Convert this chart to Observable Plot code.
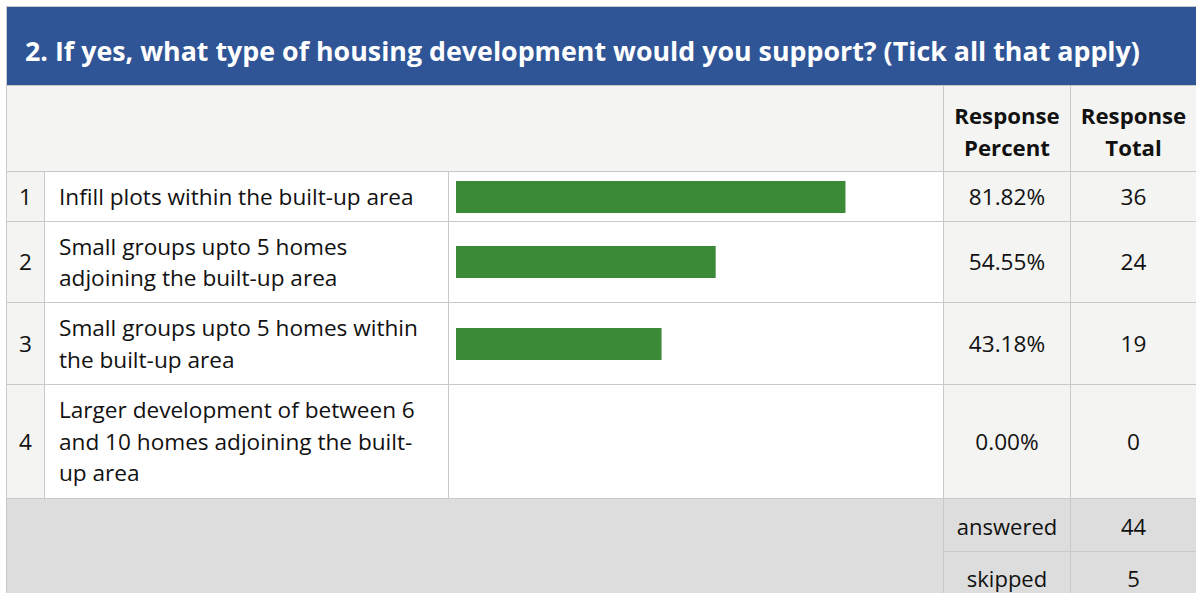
<!DOCTYPE html>
<html>
<head>
<meta charset="utf-8">
<script src="https://cdn.jsdelivr.net/npm/d3@7"></script>
<script src="https://cdn.jsdelivr.net/npm/@observablehq/plot@0.6"></script>
<style>
  html, body { margin: 0; padding: 0; background: #fff; width: 1196px; height: 593px; overflow: hidden; }
  body { font-family: "Open Sans", "Noto Sans", sans-serif; color: #111; }
  #grid {
    position: absolute; left: 6px; top: 6px;
    display: grid;
    grid-template-columns: 37px 403px 494px 126px 125px;
    grid-template-rows: 78px 85px 49px 80px 81px 113px 52px 50px;
    gap: 1px; padding: 1px; background: #c9c9c9;
  }
  .cell { display: flex; align-items: center; box-sizing: border-box; font-size: 22.6px; line-height: 31.5px; white-space: pre; }
  .title { grid-column: 1 / 6; background: #2f5597; color: #fff; font-weight: 700; font-size: 26.8px; padding-left: 18px; padding-top: 9px; }
  .head-blank { grid-column: 1 / 4; background: #f4f4f2; }
  .head { background: #f4f4f2; font-weight: 700; font-size: 22.2px; justify-content: center; text-align: center; padding-top: 6px; }
  .num { background: #f4f4f2; justify-content: center; }
  .label { background: #fff; padding-left: 14px; }
  .bar { background: #fff; }
  .val { background: #f4f4f2; justify-content: center; }
  .foot-blank { grid-column: 1 / 4; grid-row: 7 / 9; background: #dddddd; }
  .foot { background: #dddddd; justify-content: center; font-size: 22px; padding-top: 3px; }
  .bar svg { display: block; }
</style>
</head>
<body>
<div id="grid"></div>
<script>
const title = "2. If yes, what type of housing development would you support? (Tick all that apply)";
const headers = ["Response\nPercent", "Response\nTotal"];
const numbers = ["1", "2", "3", "4"];
const labels = [
  "Infill plots within the built-up area",
  "Small groups upto 5 homes\nadjoining the built-up area",
  "Small groups upto 5 homes within\nthe built-up area",
  "Larger development of between 6\nand 10 homes adjoining the built-\nup area"
];
const percents = [81.82, 54.55, 43.18, 0.00];
const totals = [36, 24, 19, 0];
const footLabels = ["answered", "skipped"];
const footValues = [44, 5];
const rowHeights = [49, 80, 81, 113];
const barColor = "#3a8a38";

const grid = document.getElementById("grid");
function cell(cls, text) {
  const d = document.createElement("div");
  d.className = "cell " + cls;
  if (text !== undefined) d.textContent = text;
  grid.appendChild(d);
  return d;
}
cell("title", title);
cell("head-blank");
headers.forEach(h => cell("head", h));

const rows = labels.map((label, i) => ({num: numbers[i], label, pct: percents[i], total: totals[i], h: rowHeights[i]}));
rows.forEach(r => {
  cell("num", r.num);
  cell("label", r.label);
  const b = cell("bar");
  const barH = 32;
  const top = Math.round((r.h - barH) / 2);
  b.appendChild(Plot.plot({
    width: 494,
    height: r.h,
    margin: 0,
    x: {domain: [0, 100], range: [7, 483], axis: null},
    y: {domain: [r.label], range: [top, top + barH], padding: 0, axis: null},
    marks: [
      Plot.barX([r], {x: "pct", y: "label", fill: barColor})
    ]
  }));
  cell("val", r.pct.toFixed(2) + "%");
  cell("val", String(r.total));
});

cell("foot-blank");
footLabels.forEach((l, i) => {
  const a = cell("foot", l);
  a.style.gridRow = String(7 + i); a.style.gridColumn = "4";
  const v = cell("foot", String(footValues[i]));
  v.style.gridRow = String(7 + i); v.style.gridColumn = "5";
});
</script>
</body>
</html>
